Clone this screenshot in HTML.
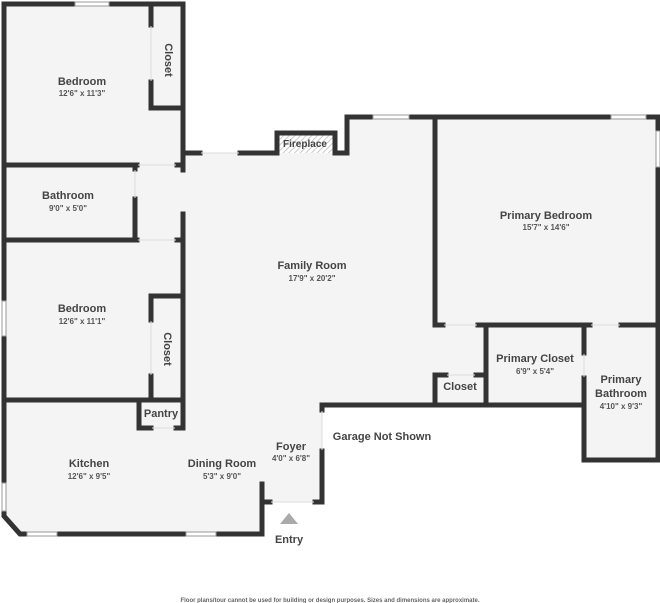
<!DOCTYPE html>
<html><head><meta charset="utf-8"><style>
html,body{margin:0;padding:0;background:#fff;}
svg{display:block;}
text{font-family:"Liberation Sans",sans-serif;fill:#444;text-anchor:middle;}
.n{font-size:11px;font-weight:bold;}
.d{font-size:8px;font-weight:bold;fill:#555;}
</style></head><body>
<svg width="660" height="603" viewBox="0 0 660 603" xmlns="http://www.w3.org/2000/svg">
<defs>
<pattern id="h" width="4" height="4" patternUnits="userSpaceOnUse" patternTransform="rotate(45)">
<rect width="4" height="4" fill="#fff"/><line x1="0" y1="0" x2="0" y2="4" stroke="#bbb" stroke-width="1.5"/></pattern>
</defs>
<polygon fill="#f4f4f4" points="4,4 183,4 183,153 347,153 347,117 658,117 658,460 584,460 584,405 322,405 322,502 262,502 262,534 20,534 4,516"/>
<rect x="277" y="133" width="58" height="20" fill="url(#h)"/>
<g stroke="#333" stroke-width="5" fill="none" stroke-linecap="square">
<!-- left wing -->
<polyline points="4,300 4,4 74,4"/>
<line x1="110" y1="4" x2="183" y2="4"/>
<line x1="183" y1="4" x2="183" y2="170"/>
<line x1="151" y1="4" x2="151" y2="25"/>
<polyline points="151,82 151,108 183,108"/>
<line x1="4" y1="337" x2="4" y2="482"/>
<polyline points="4,512 4,516 20,534 26,534"/>
<line x1="58" y1="534" x2="185" y2="534"/>
<polyline points="217,534 262,534 262,484"/>
<line x1="264" y1="502" x2="270" y2="502"/>
<line x1="4" y1="165" x2="137" y2="165"/>
<line x1="177" y1="165" x2="183" y2="165"/>
<line x1="135" y1="165" x2="135" y2="169"/>
<line x1="135" y1="199" x2="135" y2="240"/>
<line x1="4" y1="240" x2="137" y2="240"/>
<line x1="177" y1="240" x2="183" y2="240"/>
<line x1="183" y1="214" x2="183" y2="428"/>
<polyline points="151,320 151,296 183,296"/>
<line x1="151" y1="376" x2="151" y2="400"/>
<line x1="4" y1="400" x2="183" y2="400"/>
<polyline points="139,400 139,428 151,428"/>
<line x1="176" y1="428" x2="183" y2="428"/>
<!-- family room top -->
<line x1="185" y1="153" x2="200" y2="153"/>
<line x1="240" y1="153" x2="277" y2="153"/>
<polyline points="277,153 277,133 335,133 335,153 347,153 347,117 372,117"/>
<line x1="410" y1="117" x2="610" y2="117"/>
<polyline points="647,117 658,117 658,130"/>
<line x1="658" y1="168" x2="658" y2="460"/>
<polyline points="658,460 584,460 584,378"/>
<line x1="584" y1="353" x2="584" y2="325"/>
<line x1="435" y1="117" x2="435" y2="325"/>
<line x1="435" y1="325" x2="443" y2="325"/>
<line x1="478" y1="325" x2="590" y2="325"/>
<line x1="621" y1="325" x2="658" y2="325"/>
<line x1="486" y1="325" x2="486" y2="405"/>
<polyline points="435,405 435,375 446,375"/>
<line x1="476" y1="375" x2="486" y2="375"/>
<line x1="322" y1="405" x2="584" y2="405"/>
<line x1="322" y1="405" x2="322" y2="410"/>
<polyline points="322,451 322,502 315,502"/>
</g>
<g fill="#fff" stroke="#999" stroke-width="1">
<rect x="75" y="2" width="34" height="4"/>
<rect x="373" y="115" width="36" height="4"/>
<rect x="611" y="115" width="35" height="4"/>
<rect x="656" y="131" width="4" height="36"/>
<rect x="2" y="301" width="4" height="35"/>
<rect x="2" y="483" width="4" height="28"/>
<rect x="27" y="532" width="30" height="4"/>
<rect x="186" y="532" width="30" height="4"/>
</g>
<g stroke="#ddd" stroke-width="1">
<line x1="201" y1="153" x2="239" y2="153"/>
<line x1="138" y1="165" x2="176" y2="165"/>
<line x1="138" y1="240" x2="176" y2="240"/>
<line x1="135" y1="170" x2="135" y2="198"/>
<line x1="151" y1="26" x2="151" y2="81"/>
<line x1="151" y1="321" x2="151" y2="375"/>
<line x1="152" y1="428" x2="175" y2="428"/>
<line x1="271" y1="502" x2="314" y2="502"/>
<line x1="322" y1="411" x2="322" y2="450"/>
<line x1="444" y1="325" x2="477" y2="325"/>
<line x1="591" y1="325" x2="620" y2="325"/>
<line x1="447" y1="375" x2="475" y2="375"/>
<line x1="584" y1="354" x2="584" y2="377"/>
</g>
<polygon points="289,513 280,524 298,524" fill="#aaa"/>
<text class="n" x="82" y="85">Bedroom</text><text class="d" x="82" y="96">12'6" x 11'3"</text>
<text class="n" x="169" y="60" transform="rotate(90 169 60)" dy="4">Closet</text>
<text class="n" x="68" y="199">Bathroom</text><text class="d" x="68" y="211">9'0" x 5'0"</text>
<text class="n" x="312" y="269">Family Room</text><text class="d" x="312" y="281">17'9" x 20'2"</text>
<text class="n" x="305" y="147" style="font-size:10px">Fireplace</text>
<text class="n" x="546" y="219">Primary Bedroom</text><text class="d" x="546" y="230">15'7" x 14'6"</text>
<text class="n" x="82" y="312">Bedroom</text><text class="d" x="82" y="324">12'6" x 11'1"</text>
<text class="n" x="168" y="349" transform="rotate(90 168 349)" dy="4">Closet</text>
<text class="n" x="161" y="417">Pantry</text>
<text class="n" x="89" y="467">Kitchen</text><text class="d" x="89" y="479">12'6" x 9'5"</text>
<text class="n" x="222" y="467">Dining Room</text><text class="d" x="222" y="479">5'3" x 9'0"</text>
<text class="n" x="291" y="450">Foyer</text><text class="d" x="291" y="461">4'0" x 6'8"</text>
<text class="n" x="382" y="440">Garage Not Shown</text>
<text class="n" x="460" y="390">Closet</text>
<text class="n" x="535" y="362">Primary Closet</text><text class="d" x="535" y="374">6'9" x 5'4"</text>
<text class="n" x="621" y="383">Primary</text><text class="n" x="621" y="397">Bathroom</text><text class="d" x="621" y="409">4'10" x 9'3"</text>
<text class="n" x="289" y="543">Entry</text>
<text x="330" y="602" style="font-size:6px;font-weight:bold;fill:#666">Floor plans/tour cannot be used for building or design purposes. Sizes and dimensions are approximate.</text>
</svg>
</body></html>
